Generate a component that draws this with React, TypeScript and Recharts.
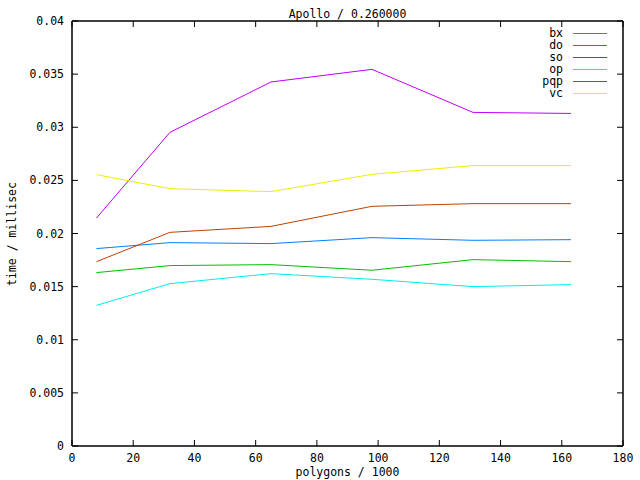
import { LineChart, Line, XAxis, YAxis, ReferenceArea } from "recharts";

// polygons / 1000
const polygons = [8, 32, 65, 98, 131, 163];

// time / millisec per method
const bx = [0.01632, 0.01698, 0.01707, 0.01654, 0.01754, 0.01735];
const doVals = [0.01858, 0.01914, 0.01905, 0.01961, 0.01936, 0.01942];
const so = [0.02146, 0.02952, 0.03426, 0.03545, 0.0314, 0.0313];
const op = [0.01324, 0.01528, 0.01622, 0.01569, 0.015, 0.01519];
const pqp = [0.01735, 0.02011, 0.02067, 0.02256, 0.02281, 0.02281];
const vc = [0.02554, 0.02422, 0.02394, 0.02557, 0.02639, 0.02639];

const xTicks = [0, 20, 40, 60, 80, 100, 120, 140, 160, 180];
const yTicks = [0, 0.005, 0.01, 0.015, 0.02, 0.025, 0.03, 0.035, 0.04];

const series = [
  { key: "bx", values: bx, color: "#00c000" },
  { key: "do", values: doVals, color: "#0080ff" },
  { key: "so", values: so, color: "#c000ff" },
  { key: "op", values: op, color: "#00eeee" },
  { key: "pqp", values: pqp, color: "#c04000" },
  { key: "vc", values: vc, color: "#eeee00" },
];

const data = polygons.map((x, i) => {
  const row: Record<string, number> = { x };
  series.forEach((s) => (row[s.key] = s.values[i]));
  return row;
});

const W = 640;
const H = 480;
const margin = { top: 20, right: 16, bottom: 0, left: 0 };
const xAxisH = 34;
const yAxisW = 72;
// plot box edges (top/right frame axes are 1px thick)
const plotTop = margin.top + 1;
const plotBottom = H - margin.bottom - xAxisH;
const plotLeft = margin.left + yAxisW;
const plotRight = W - margin.right - 1;
const TICK = 6;

const font = "'DejaVu Sans Mono', monospace";
const fs = 11.5;
const axisStroke = { stroke: "#000", strokeWidth: 1 };

// gnuplot draws ticks inward on both mirrored sides
function XTick({ x, y, payload }: any) {
  return (
    <g>
      <line x1={x} x2={x} y1={plotBottom} y2={plotBottom - TICK} stroke="#000" strokeWidth={1} />
      <line x1={x} x2={x} y1={plotTop} y2={plotTop + TICK} stroke="#000" strokeWidth={1} />
      <text x={x} y={y} dy="0.71em" textAnchor="middle" fontFamily={font} fontSize={fs} fill="#000">
        {payload.value}
      </text>
    </g>
  );
}

function YTick({ x, y, payload }: any) {
  return (
    <g>
      <line x1={plotLeft} x2={plotLeft + TICK} y1={y} y2={y} stroke="#000" strokeWidth={1} />
      <line x1={plotRight} x2={plotRight - TICK} y1={y} y2={y} stroke="#000" strokeWidth={1} />
      <text x={x} y={y} dy="0.35em" textAnchor="end" fontFamily={font} fontSize={fs} fill="#000">
        {payload.value}
      </text>
    </g>
  );
}

const textStyle: React.CSSProperties = {
  position: "absolute",
  fontFamily: font,
  fontSize: fs,
  color: "#000",
  lineHeight: "12px",
  whiteSpace: "nowrap",
};

// gnuplot-style key: label right-aligned, short sample line after it
function GnuKey() {
  return (
    <div style={{ position: "absolute", right: 33, top: 27 }}>
      {series.map((s) => (
        <div key={s.key} style={{ display: "flex", alignItems: "center", justifyContent: "flex-end", height: 12 }}>
          <span style={{ fontFamily: font, fontSize: fs, lineHeight: "12px" }}>{s.key}</span>
          <span style={{ display: "block", width: 34, height: 0, borderTop: `1px solid ${s.color}`, marginLeft: 10 }} />
        </div>
      ))}
    </div>
  );
}

export default function App() {
  return (
    <div style={{ position: "absolute", left: 0, top: 0, width: W, height: H, background: "#fff" }}>
      <LineChart width={W} height={H} data={data} margin={margin}>
        <XAxis
          dataKey="x"
          type="number"
          domain={[0, 180]}
          ticks={xTicks}
          height={xAxisH}
          tick={<XTick />}
          tickMargin={2}
          axisLine={axisStroke}
          tickLine={false}
        />
        <XAxis
          xAxisId="top"
          orientation="top"
          dataKey="x"
          type="number"
          domain={[0, 180]}
          ticks={xTicks}
          height={1}
          tickSize={0}
          tick={false}
          axisLine={axisStroke}
        />
        <YAxis
          type="number"
          domain={[0, 0.04]}
          ticks={yTicks}
          width={yAxisW}
          tick={<YTick />}
          tickMargin={2}
          axisLine={axisStroke}
          tickLine={false}
        />
        <YAxis
          yAxisId="right"
          orientation="right"
          type="number"
          domain={[0, 0.04]}
          ticks={yTicks}
          width={1}
          tickSize={0}
          tick={false}
          axisLine={axisStroke}
        />
        {/* frame around the plot */}
        <ReferenceArea x1={0} x2={180} y1={0} y2={0.04} fill="none" stroke="#000" strokeWidth={1} ifOverflow="visible" />
        {series.map((s) => (
          <Line
            key={s.key}
            type="linear"
            dataKey={s.key}
            stroke={s.color}
            strokeWidth={1}
            dot={false}
            isAnimationActive={false}
          />
        ))}
      </LineChart>
      <div style={{ ...textStyle, top: 8, left: 0, width: plotLeft + plotRight, textAlign: "center" }}>
        Apollo / 0.260000
      </div>
      <div style={{ ...textStyle, top: 466, left: 0, width: plotLeft + plotRight, textAlign: "center" }}>
        polygons / 1000
      </div>
      <div
        style={{
          ...textStyle,
          left: 12,
          top: (plotTop + plotBottom) / 2,
          transform: "translate(-50%, -50%) rotate(-90deg)",
        }}
      >
        time / millisec
      </div>
      <GnuKey />
    </div>
  );
}
